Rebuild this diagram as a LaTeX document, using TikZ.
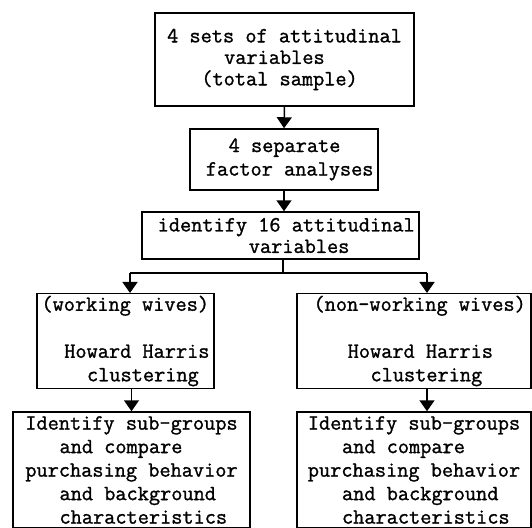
\documentclass[tikz,border=0pt]{standalone}
\usepackage{fontspec}
\setmonofont{Latin Modern Mono}[FakeBold=1.2]
\usetikzlibrary{arrows.meta}

%% leading blanks, one typewriter character each
\newcommand{\pad}[1]{\hspace*{#1\dimexpr.525em\relax}}

\tikzset{
  stepbox/.style={draw, line width=1.5pt, align=left, inner sep=2pt,
    font=\ttfamily\fontsize{21.7}{23.5}\selectfont},
  tight/.style={font=\ttfamily\fontsize{21.7}{21.5}\selectfont},
}

\begin{document}
\begin{tikzpicture}[x=1pt, y=-1pt, line width=1.5pt]
    \useasboundingbox (0,0) rectangle (532,527);
    \clip (0,0) rectangle (532,527);
    %% Draw the boxes
    \node[stepbox, tight, minimum width=259, minimum height=93] (sets) at (284.5,59.5)
      {4 sets of attitudinal\\\pad{5}variables\\\pad{3}(total sample)};
    \node[stepbox, minimum width=188, minimum height=61] (factor) at (284,159.5)
      {\pad{3}4 separate\\\pad{1}factor analyses};
    \node[stepbox, tight, minimum width=277, minimum height=47] (ident) at (280.5,235.5)
      {\pad{1}identify 16 attitudinal\\\pad{9}variables};
    \node[stepbox, minimum width=177, minimum height=94] (working) at (125.5,341)
      {(working wives)\\[23.5pt]\pad{2}Howard Harris\\\pad{4}clustering};
    \node[stepbox, minimum width=234, minimum height=94] (nonworking) at (414,341)
      {\pad{1}(non-working wives)\\[23.5pt]\pad{4}Howard Harris\\\pad{6}clustering};
    \node[stepbox, minimum width=237, minimum height=116] (subL) at (131.5,470)
      {Identify sub-groups\\\pad{3}and compare\\purchasing behavior\\\pad{3}and background\\\pad{3}characteristics};
    \node[stepbox, minimum width=234, minimum height=116] (subR) at (414,470)
      {Identify sub-groups\\\pad{3}and compare\\purchasing behavior\\\pad{3}and background\\\pad{3}characteristics};
    %% Split point under the 16 variables
    \coordinate (split) at (283,273);
    \coordinate (splitL) at (130,273);
    \coordinate (splitR) at (427,273);
    \draw (split |- ident.south) -- (split);
    \draw (splitL) -- (splitR);
    %% Draw the edges
    \begin{scope}[every path/.style={-{Triangle[width=15pt,length=11pt]}}]
      \draw (sets.south) -- (factor.north);
      \draw (factor.south) -- (factor.south |- ident.north);
      \draw (splitL) -- (splitL |- working.north);
      \draw (splitR) -- (splitR |- nonworking.north);
      \draw (subL.north |- working.south) -- (subL.north);
      \draw ([xshift=13pt]nonworking.south) -- ([xshift=13pt]subR.north);
    \end{scope}
\end{tikzpicture}
\end{document}
